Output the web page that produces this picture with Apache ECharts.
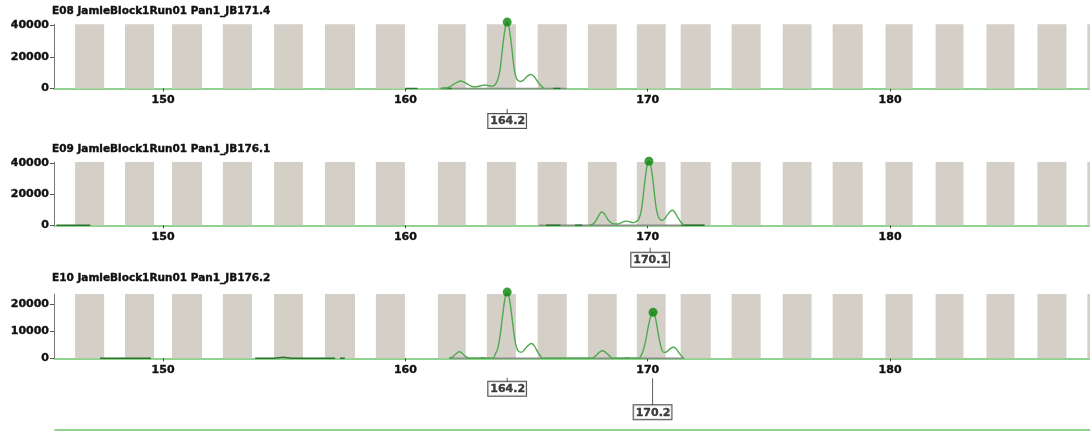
<!DOCTYPE html>
<html>
<head>
<meta charset="UTF-8">
<title>Electropherogram</title>
<script src="https://cdn.jsdelivr.net/npm/echarts@6/dist/echarts.min.js"></script>
<style>
  html, body { margin: 0; padding: 0; background: #fff; }
  #main { width: 1090px; height: 431px; }
</style>
</head>
<body>
<div id="main"></div>
<script>
// sample names
var titles = [
  "E08 JamieBlock1Run01 Pan1_JB171.4",
  "E09 JamieBlock1Run01 Pan1_JB176.1",
  "E10 JamieBlock1Run01 Pan1_JB176.2"
];
var xTicks = [150, 160, 170, 180];
var yTicks1 = [0, 20000, 40000];
var yTicks2 = [0, 20000, 40000];
var yTicks3 = [0, 10000, 20000];

// allele bins (bp start, bp end)
var bins = [
  [146.37, 147.57], [148.43, 149.63], [150.37, 151.61], [152.47, 153.67],
  [154.58, 155.77], [156.68, 157.92], [158.78, 159.98], [161.34, 162.49],
  [163.36, 164.56], [165.46, 166.66], [167.53, 168.72], [169.55, 170.74],
  [171.36, 172.6], [173.46, 174.66], [175.57, 176.76], [177.63, 178.87],
  [179.81, 180.93], [181.88, 183.03], [183.98, 185.13], [186.08, 187.28],
  [188.14, 189.3]
];

// traces (bp, rfu)
var trace1 = [
  [161.5, 0], [161.7, 300], [161.85, 1200], [162.0, 2800], [162.15, 4100], [162.28, 4700],
  [162.4, 4200], [162.55, 2900], [162.7, 1600], [162.85, 1000], [163.0, 1300], [163.15, 1900],
  [163.3, 2200], [163.45, 1700], [163.6, 1500], [163.7, 2400], [163.8, 5000], [163.9, 11500],
  [163.95, 17500], [164.0, 24500], [164.05, 31000], [164.1, 36500], [164.15, 40500], [164.2, 42000],
  [164.25, 40500], [164.3, 36500], [164.35, 31000], [164.4, 24500], [164.45, 17500], [164.5, 11500],
  [164.57, 7000], [164.65, 5000], [164.75, 4400], [164.85, 5000], [164.95, 6500], [165.05, 8000],
  [165.18, 8900], [165.3, 7800], [165.42, 5200], [165.55, 2500], [165.65, 1000], [165.75, 0]
];
var trace2 = [
  [167.6, 0], [167.75, 900], [167.88, 3500], [168.0, 6800], [168.1, 8500], [168.2, 7600],
  [168.32, 4600], [168.45, 2100], [168.6, 900], [168.75, 800], [168.9, 1600], [169.05, 2500],
  [169.15, 2700], [169.28, 2100], [169.4, 1700], [169.5, 2200], [169.6, 3200], [169.65, 4800],
  [169.7, 7000], [169.75, 11000], [169.8, 17000], [169.85, 24000], [169.9, 30500], [169.95, 36000],
  [170.0, 39800], [170.05, 41000], [170.1, 39800], [170.15, 36000], [170.2, 30500], [170.25, 24000],
  [170.3, 17000], [170.35, 11000], [170.42, 6200], [170.5, 3900], [170.6, 3200], [170.7, 4200],
  [170.82, 7000], [170.95, 9200], [171.02, 9600], [171.12, 8200], [171.25, 4800], [171.38, 1800],
  [171.5, 0]
];
var trace3 = [
  [161.8, 0], [161.95, 500], [162.08, 1600], [162.22, 2400], [162.36, 1700], [162.5, 600], [162.65, 0],
  [163.6, 0], [163.72, 1800], [163.8, 3300], [163.85, 5300], [163.9, 8000], [163.95, 11300],
  [164.0, 15000], [164.05, 18500], [164.1, 21600], [164.15, 23700], [164.2, 24500], [164.25, 23700],
  [164.3, 21600], [164.35, 18500], [164.4, 15000], [164.45, 11300], [164.5, 8000], [164.55, 5300],
  [164.62, 3300], [164.7, 2400], [164.8, 2300], [164.92, 3300], [165.05, 4600], [165.2, 5500],
  [165.32, 4600], [165.45, 2500], [165.57, 900], [165.65, 0],
  [167.7, 0], [167.85, 900], [168.0, 2200], [168.13, 2800], [168.26, 2200], [168.42, 900], [168.55, 0],
  [169.65, 0], [169.72, 900], [169.8, 2500], [169.87, 4800], [169.95, 8200], [170.02, 11600],
  [170.1, 14800], [170.17, 16600], [170.22, 17000], [170.28, 16200], [170.35, 13500], [170.42, 9800],
  [170.5, 6000], [170.58, 3300], [170.66, 2200], [170.78, 2400], [170.92, 3500], [171.05, 4100],
  [171.15, 3700], [171.28, 2200], [171.4, 800], [171.5, 0]
];

// grey raw baseline under the peaks
var greyBase1 = [[161.4, 0], [166.65, 0]];
var greyBase2 = [[165.5, 0], [172.3, 0]];
var greyBase3 = [[161.8, 0], [171.5, 0]];

// low noise segments on the baseline (null = gap)
var noise1 = [[160.0, 0], [160.5, 0], [160.5, null], [161.5, 0], [161.9, 0], [161.9, null], [166.1, 0], [166.4, 0]];
var noise2 = [[145.6, 0], [147.0, 0], [147.0, null], [165.8, 0], [166.4, 0], [166.4, null],
  [167.0, 0], [167.3, 0], [167.3, null], [171.4, 0], [172.35, 0]];
var noise3 = [[147.4, 0], [149.5, 0], [149.5, null], [153.8, 0], [154.6, 0], [154.95, 400], [155.3, 0], [157.1, 0], [157.1, null],
  [157.3, 0], [157.5, 0], [157.5, null], [163.1, 0], [163.3, 0], [163.3, null], [169.05, 0], [169.25, 0]];

// called peaks
var peaks1 = [[164.2, 42000]];
var peaks2 = [[170.05, 41000]];
var peaks3 = [[164.2, 24500], [170.22, 17000]];

// size labels
var sizes1 = [164.2];
var sizes2 = [170.1];
var sizes3 = [164.2, 170.2];

var FONT = "DejaVu Sans";
var chart = echarts.init(document.getElementById("main"));

var panels = [
  { top: 24.3, height: 64.2, max: 40600, ticks: yTicks1, titleTop: 6 },
  { top: 162, height: 63.3, max: 40500, ticks: yTicks2, titleTop: 144 },
  { top: 294, height: 64.3, max: 23800, ticks: yTicks3, titleTop: 273 }
];
var traces = [trace1, trace2, trace3];
var greys = [greyBase1, greyBase2, greyBase3];
var noises = [noise1, noise2, noise3];
var peaks = [peaks1, peaks2, peaks3];
var sizes = [sizes1, sizes2, sizes3];
// connector [length, offset] per size label
var drops = [[[5, 23]], [[5, 25]], [[4, 21.5], [27, 33.5]]];

// heavy bitmap-like text
var heavy = { fontFamily: FONT, fontWeight: "bold", color: "#111", textBorderColor: "#111", textBorderWidth: 0.4 };

var grids = [], xAxes = [], yAxes = [], series = [], titleOpts = [];

panels.forEach(function (p, i) {
  grids.push({ left: 54, right: 0, top: p.top, height: p.height });
  titleOpts.push({
    text: titles[i], left: 52, top: p.titleTop, padding: 0,
    textStyle: Object.assign({}, heavy, { fontSize: 10.5 })
  });
  xAxes.push({
    type: "value", gridIndex: i, min: 145.5, max: 188.25,
    splitLine: { show: false },
    axisLine: { onZero: false, lineStyle: { color: "#6ec46e", width: 1.5 } },
    axisTick: { customValues: xTicks, length: 3, lineStyle: { color: "#444" } },
    axisLabel: Object.assign({}, heavy, {
      customValues: xTicks, margin: 6, fontSize: 11,
      formatter: function (v) { return String(v); }
    })
  });
  yAxes.push({
    type: "value", gridIndex: i, min: 0, max: p.max,
    splitLine: { show: false },
    axisLine: { show: true, lineStyle: { color: "#777" } },
    axisTick: { show: true, customValues: p.ticks, length: 4, lineStyle: { color: "#555" } },
    axisLabel: Object.assign({}, heavy, {
      customValues: p.ticks, margin: 5, fontSize: 11,
      formatter: function (v) { return String(v); }
    })
  });

  series.push({
    type: "line", xAxisIndex: i, yAxisIndex: i, data: greys[i],
    showSymbol: false, silent: true, z: 2,
    lineStyle: { color: "#8c8c8c", width: 1.5 },
    markArea: {
      silent: true,
      itemStyle: { color: "#d4d0c8" },
      data: bins.map(function (b) { return [{ xAxis: b[0] }, { xAxis: b[1] }]; })
    }
  });
  series.push({
    type: "line", xAxisIndex: i, yAxisIndex: i, data: noises[i],
    showSymbol: false, silent: true, z: 3, connectNulls: false,
    lineStyle: { color: "#2a732a", width: 1.5 }
  });
  series.push({
    type: "line", xAxisIndex: i, yAxisIndex: i, data: traces[i],
    smooth: 0.4, showSymbol: false, silent: true, clip: false, z: 4,
    lineStyle: { color: "#4eaa4e", width: 1.4 }
  });
  series.push({
    type: "scatter", xAxisIndex: i, yAxisIndex: i, data: peaks[i],
    symbolSize: 9, clip: false, silent: true, z: 6,
    itemStyle: { color: "#0a860a" }
  });
  series.push({
    type: "scatter", xAxisIndex: i, yAxisIndex: i, clip: false, silent: true, z: 6,
    symbol: "rect",
    data: sizes[i].map(function (s, k) {
      return { value: [s, 0], symbolSize: [1, drops[i][k][0]], symbolOffset: [0, drops[i][k][1]] };
    }),
    itemStyle: { color: "#333" },
    label: Object.assign({}, heavy, {
      show: true, position: "bottom", distance: 0, fontSize: 11,
      formatter: function (d) { return d.value[0].toFixed(1); },
      backgroundColor: "#fff", borderColor: "#222", borderWidth: 1,
      padding: [2, 1, 1, 2]
    })
  });
});

// bottom divider line
grids.push({ left: 55, right: 0, top: 428.5, height: 1 });
xAxes.push({
  type: "value", gridIndex: 3, min: 0, max: 1,
  axisLine: { lineStyle: { color: "#6ec46e", width: 1.5 } },
  axisTick: { show: false }, axisLabel: { show: false }, splitLine: { show: false }
});
yAxes.push({ type: "value", gridIndex: 3, show: false, min: 0, max: 1 });

chart.setOption({
  animation: false,
  backgroundColor: "#fff",
  title: titleOpts,
  grid: grids,
  xAxis: xAxes,
  yAxis: yAxes,
  series: series
});
</script>
</body>
</html>
